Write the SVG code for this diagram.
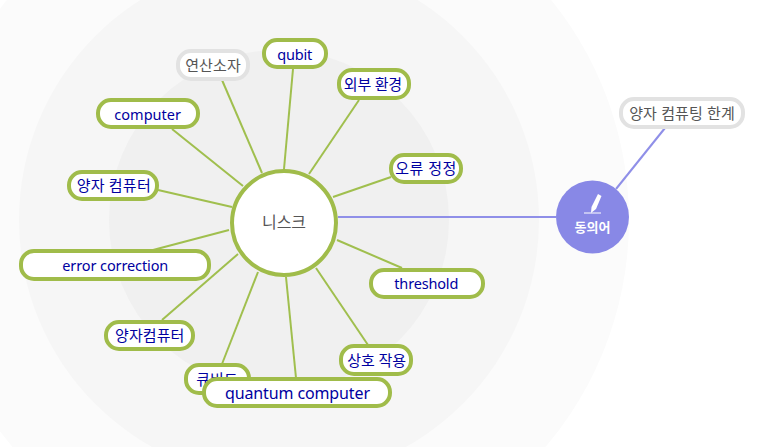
<svg xmlns="http://www.w3.org/2000/svg" width="760" height="447" viewBox="0 0 760 447">
<style>
.n rect{fill:#fff;stroke:#a0bc4a;stroke-width:4}
.g rect{fill:#fff;stroke:#e2e2e2;stroke-width:4}
text{font-family:"Noto Sans","Noto Sans CJK KR",sans-serif;font-size:15px;text-anchor:middle;fill:#0000a0}
.g text{fill:#555}
.l{font-size:14.5px}
#connectors line{stroke:#a0bf4e;stroke-width:2}
#connectors line.p{stroke:#8f8fe8}
</style>
<rect width="760" height="447" fill="#fff"/>
<circle cx="279" cy="220" r="350" fill="#fbfbfb"/>
<circle cx="279" cy="220" r="260" fill="#f6f6f6"/>
<circle cx="279" cy="220" r="170" fill="#f0f0f0"/>
<g id="connectors">
<line x1="293" y1="69" x2="284" y2="169"/>
<line x1="222" y1="80" x2="262" y2="173"/>
<line x1="359" y1="100" x2="309" y2="174"/>
<line x1="172" y1="129" x2="243" y2="186"/>
<line x1="158" y1="190" x2="232" y2="207"/>
<line x1="153" y1="250" x2="229" y2="230"/>
<line x1="162" y1="320" x2="238" y2="254"/>
<line x1="222" y1="364" x2="258" y2="272"/>
<line x1="296" y1="378" x2="286" y2="277"/>
<line x1="368" y1="345" x2="316" y2="268"/>
<line x1="402" y1="268" x2="337" y2="240"/>
<line x1="391" y1="177" x2="333" y2="197"/>
<line class="p" x1="338" y1="217" x2="556" y2="217"/>
<line class="p" x1="665" y1="128" x2="616" y2="189"/>
</g>
<g id="center"><circle cx="284" cy="223" r="52" fill="#fff" stroke="#a0bc4a" stroke-width="4"/><text x="284" y="228" style="font-size:16px;fill:#555">니스크</text></g>
<g id="n-qubit" class="n"><rect x="264" y="40" width="62" height="27" rx="13"/><text class="l" x="294.7" y="60" textLength="35">qubit</text></g>
<g id="n-op" class="g"><rect x="178" y="51" width="70" height="28" rx="13"/><text x="213" y="70.5" textLength="55.7">연산소자</text></g>
<g id="n-env" class="n"><rect x="339" y="70" width="70" height="28" rx="13"/><text x="373" y="89.5" textLength="58.3">외부 환경</text></g>
<g id="n-computer" class="n"><rect x="98" y="100" width="100" height="27" rx="13"/><text class="l" x="147.7" y="120" textLength="66.7">computer</text></g>
<g id="n-qc1" class="n"><rect x="69" y="172" width="88" height="27" rx="13"/><text x="113.7" y="191" textLength="74">양자 컴퓨터</text></g>
<g id="n-ecorr" class="n"><rect x="21" y="251" width="188" height="28" rx="13"/><text class="l" x="115.3" y="271" textLength="106">error correction</text></g>
<g id="n-qc2" class="n"><rect x="106" y="322" width="87" height="27" rx="13"/><text x="149.7" y="341" textLength="69.3">양자컴퓨터</text></g>
<g id="n-fix" class="n"><rect x="391" y="155" width="70" height="27" rx="13"/><text x="425.8" y="174" textLength="61">오류 정정</text></g>
<g id="n-th" class="n"><rect x="371" y="270" width="112" height="27" rx="13"/><text class="l" x="426.3" y="288.5" textLength="64">threshold</text></g>
<g id="n-inter" class="n"><rect x="341" y="346" width="70" height="28" rx="13"/><text x="376.7" y="365.5" textLength="58.7">상호 작용</text></g>
<g id="n-qubit-ko" class="n"><rect x="186" y="365" width="63" height="28" rx="13"/><text x="217" y="385">큐비트</text></g>
<g id="n-qcomp" class="n"><rect x="204" y="379" width="186" height="27" rx="13"/><text x="297.5" y="399" style="font-size:16px" textLength="145">quantum computer</text></g>
<g id="n-limit" class="g"><rect x="621" y="99" width="122" height="28" rx="13"/><text x="682" y="118.5" textLength="105.7">양자 컴퓨팅 한계</text></g>
<g id="n-syn"><circle cx="592.5" cy="217" r="36.5" fill="#8888e6"/>
<path d="M598 194 L601.5 196 L596 209 L591 213 L591.5 207Z" fill="#fff"/><line x1="584" y1="213" x2="601" y2="213" stroke="#fff" stroke-width="1"/>
<text x="592.5" y="232" style="font-size:13px;font-weight:700;fill:#fff">동의어</text></g>
</svg>
